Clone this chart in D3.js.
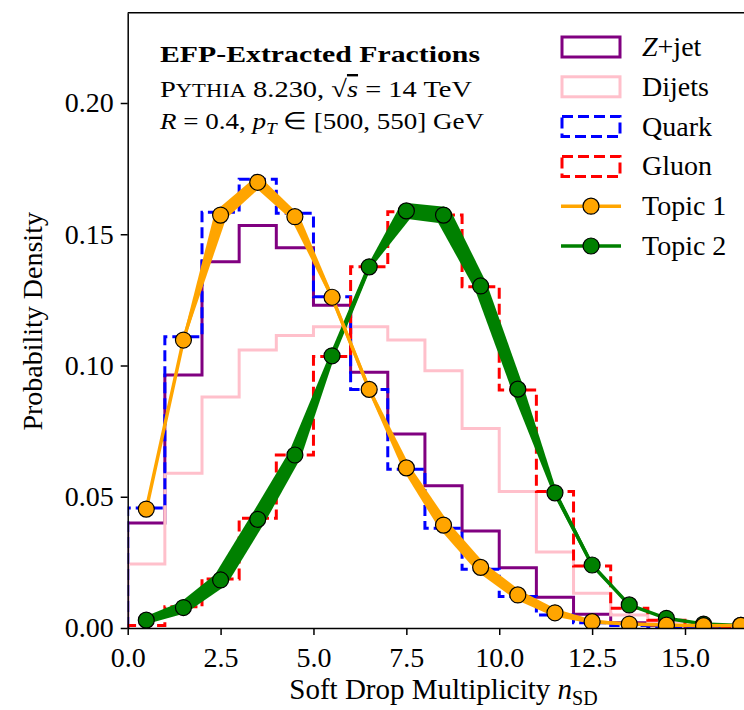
<!DOCTYPE html>
<html>
<meta charset=utf-8>
<head>
<script src="https://cdnjs.cloudflare.com/ajax/libs/d3/7.8.5/d3.min.js"></script>
<style>
body { margin: 0; background: #fff; }
text { font-family: "Liberation Serif", "Times New Roman", serif; fill: #000; }
</style>
</head>
<body>
<script>

// soft drop multiplicity bins (width 1)
var binEdges = [0, 1, 2, 3, 4, 5, 6, 7, 8, 9, 10, 11, 12, 13, 14, 15, 16, 17];
var binCenters = [0.5, 1.5, 2.5, 3.5, 4.5, 5.5, 6.5, 7.5, 8.5, 9.5, 10.5, 11.5, 12.5, 13.5, 14.5, 15.5, 16.5];

// histograms (probability density per bin)
var zjet   = [0.0400, 0.0964, 0.1395, 0.1533, 0.1449, 0.1230, 0.0974, 0.0739, 0.0542, 0.0370, 0.0230, 0.0117, 0.0052, 0.0020, 0.0010, 0.0005, 0.0003];
var dijets = [0.0244, 0.0590, 0.0880, 0.1059, 0.1114, 0.1148, 0.1148, 0.1097, 0.0980, 0.0760, 0.0520, 0.0290, 0.0132, 0.0050, 0.0024, 0.0010, 0.0005];
var quark  = [0.0457, 0.1110, 0.1584, 0.1710, 0.1580, 0.1262, 0.0909, 0.0605, 0.0380, 0.0224, 0.0120, 0.0050, 0.0020, 0.0010, 0.0005, 0.0003, 0.0002];
var gluon  = [0.0010, 0.0081, 0.0187, 0.0418, 0.0659, 0.1034, 0.1376, 0.1586, 0.1573, 0.1300, 0.0907, 0.0520, 0.0236, 0.0075, 0.0030, 0.0010, 0.0005];

// extracted topics and their spread
var topic1    = [0.0453, 0.1097, 0.1573, 0.1698, 0.1567, 0.1260, 0.0909, 0.0610, 0.0392, 0.0231, 0.0126, 0.0058, 0.0024, 0.0015, 0.0011, 0.0009, 0.0010];
var topic1Err = [0.0000, 0.0004, 0.0024, 0.0021, 0.0017, 0.0006, 0.0006, 0.0015, 0.0021, 0.0021, 0.0019, 0.0015, 0.0008, 0.0004, 0.0000, 0.0000, 0.0000];
var topic2    = [0.0030, 0.0078, 0.0183, 0.0414, 0.0659, 0.1037, 0.1376, 0.1589, 0.1573, 0.1303, 0.0910, 0.0515, 0.0240, 0.0088, 0.0037, 0.0015, 0.0010];
var topic2Err = [0.0015, 0.0023, 0.0029, 0.0029, 0.0025, 0.0010, 0.0008, 0.0030, 0.0032, 0.0025, 0.0023, 0.0008, 0.0006, 0.0004, 0.0003, 0.0003, 0.0003];

var xTicks = [0, 2.5, 5, 7.5, 10, 12.5, 15];
var yTicks = [0, 0.05, 0.10, 0.15, 0.20];
var xMax = 17, yMax = 0.2344;

var svg = d3.select('body').append('svg')
    .attr('width', 744).attr('height', 710);

var x = d3.scaleLinear().domain([0, xMax]).range([127.7, 759.3]);
var y = d3.scaleLinear().domain([0, yMax]).range([628, 12.7]);

svg.append('clipPath').attr('id', 'plotclip')
  .append('rect')
    .attr('x', x(0)).attr('y', y(yMax))
    .attr('width', x(xMax) - x(0)).attr('height', y(0) - y(yMax));

var plot = svg.append('g').attr('clip-path', 'url(#plotclip)');

var line = d3.line().x(function(d){ return x(d[0]); }).y(function(d){ return y(d[1]); });

// step outline like hist(histtype='step')
function stepPts(vals) {
  var pts = [[binEdges[0], 0]];
  vals.forEach(function(v, i){
    pts.push([binEdges[i], v]);
    pts.push([binEdges[i + 1], v]);
  });
  pts.push([binEdges[vals.length], 0]);
  return pts;
}

function hist(vals, color, dashed) {
  plot.append('path')
    .attr('d', line(stepPts(vals)))
    .attr('fill', 'none')
    .attr('stroke', color)
    .attr('stroke-width', 3)
    .attr('stroke-dasharray', dashed ? '11,5' : null);
}

hist(zjet, 'purple', false);
hist(dijets, 'pink', false);
hist(quark, 'blue', true);
hist(gluon, 'red', true);

// topic curve with a spread band of varying width
function topic(vals, errs, color) {
  var g = plot.append('g');
  var pts = vals.map(function(v, i){ return [x(binCenters[i]), y(v)]; });
  var w = errs.map(function(e){ return y(0) - y(e); });
  var band = g.append('g').attr('fill', color);
  for (var i = 0; i < pts.length - 1; i++) {
    var dx = pts[i+1][0] - pts[i][0], dy = pts[i+1][1] - pts[i][1];
    var len = Math.sqrt(dx*dx + dy*dy), nx = -dy/len, ny = dx/len;
    var poly = [
      [pts[i][0] + nx*w[i], pts[i][1] + ny*w[i]],
      [pts[i+1][0] + nx*w[i+1], pts[i+1][1] + ny*w[i+1]],
      [pts[i+1][0] - nx*w[i+1], pts[i+1][1] - ny*w[i+1]],
      [pts[i][0] - nx*w[i], pts[i][1] - ny*w[i]]
    ];
    band.append('polygon').attr('points', poly.map(function(p){ return p.join(','); }).join(' '));
  }
  band.selectAll('circle').data(pts).enter().append('circle')
    .attr('cx', function(d){ return d[0]; })
    .attr('cy', function(d){ return d[1]; })
    .attr('r', function(d, i){ return w[i]; });

  g.append('path')
    .attr('d', d3.line()(pts))
    .attr('fill', 'none')
    .attr('stroke', color)
    .attr('stroke-width', 3.5)
    .attr('stroke-linejoin', 'round');

  g.selectAll('.mk').data(pts).enter().append('circle')
    .attr('class', 'mk')
    .attr('cx', function(d){ return d[0]; })
    .attr('cy', function(d){ return d[1]; })
    .attr('r', 8)
    .attr('fill', color)
    .attr('stroke', '#000')
    .attr('stroke-width', 1.2);
}

topic(topic2, topic2Err, 'green');
topic(topic1, topic1Err, 'orange');

// axes
var xAxis = svg.append('g')
    .attr('transform', 'translate(0,' + y(0) + ')')
    .call(d3.axisBottom(x).tickValues(xTicks).tickFormat(d3.format('.1f'))
      .tickSize(7).tickPadding(12).tickSizeOuter(0));

var yAxis = svg.append('g')
    .attr('transform', 'translate(' + x(0) + ',0)')
    .call(d3.axisLeft(y).tickValues(yTicks).tickFormat(d3.format('.2f'))
      .tickSize(7).tickPadding(7).tickSizeOuter(0));

[xAxis, yAxis].forEach(function(a){
  a.selectAll('path, line').attr('stroke', '#000').attr('stroke-width', 1.5);
  a.selectAll('text').attr('font-family', '"Liberation Serif", serif').attr('font-size', 28);
});

// top spine
svg.append('line')
  .attr('x1', x(0)).attr('x2', x(xMax))
  .attr('y1', y(yMax)).attr('y2', y(yMax))
  .attr('stroke', '#000').attr('stroke-width', 1.5);

// axis labels
var xl = svg.append('text')
  .attr('x', (x(0) + x(xMax)) / 2).attr('y', 699)
  .attr('text-anchor', 'middle').attr('font-size', 29);
xl.append('tspan').text('Soft Drop Multiplicity ');
xl.append('tspan').attr('font-style', 'italic').text('n');
xl.append('tspan').attr('font-size', 20).attr('dy', 6).text('SD');

svg.append('text')
  .attr('transform', 'translate(42,' + ((y(0) + y(yMax)) / 2 + 1) + ') rotate(-90)')
  .attr('text-anchor', 'middle').attr('font-size', 28)
  .text('Probability Density');

// annotation
var ann = svg.append('g').attr('font-size', 24);
ann.append('text').attr('x', 160).attr('y', 62)
  .attr('font-weight', 'bold').attr('textLength', 320).attr('lengthAdjust', 'spacingAndGlyphs')
  .text('EFP-Extracted Fractions');

var l2 = ann.append('text').attr('x', 160).attr('y', 97).attr('textLength', 312).attr('lengthAdjust', 'spacingAndGlyphs');
l2.append('tspan').text('P');
l2.append('tspan').attr('font-size', 19).text('YTHIA');
l2.append('tspan').text(' 8.230, √');
l2.append('tspan').attr('font-style', 'italic').attr('text-decoration', 'overline').text('s');
l2.append('tspan').text(' = 14 TeV');

var l3 = ann.append('text').attr('x', 160).attr('y', 129).attr('textLength', 324).attr('lengthAdjust', 'spacingAndGlyphs');
l3.append('tspan').attr('font-style', 'italic').text('R');
l3.append('tspan').text(' = 0.4, ');
l3.append('tspan').attr('font-style', 'italic').text('p');
l3.append('tspan').attr('font-style', 'italic').attr('font-size', 17).attr('dy', 5).text('T');
l3.append('tspan').attr('dy', -5).text(' ∈ [500, 550] GeV');

// legend
var legendItems = [
  {label: 'Z+jet', color: 'purple', kind: 'box'},
  {label: 'Dijets', color: 'pink', kind: 'box'},
  {label: 'Quark', color: 'blue', kind: 'dash'},
  {label: 'Gluon', color: 'red', kind: 'dash'},
  {label: 'Topic 1', color: 'orange', kind: 'line'},
  {label: 'Topic 2', color: 'green', kind: 'line'}
];

var leg = svg.append('g');
legendItems.forEach(function(d, i){
  var cy = 47 + i * 39.8;
  if (d.kind === 'line') {
    leg.append('line').attr('x1', 561).attr('x2', 621).attr('y1', cy).attr('y2', cy)
      .attr('stroke', d.color).attr('stroke-width', 3.5);
    leg.append('circle').attr('cx', 591).attr('cy', cy).attr('r', 8)
      .attr('fill', d.color).attr('stroke', '#000').attr('stroke-width', 1.2);
  } else {
    leg.append('rect').attr('x', 562).attr('y', cy - 10).attr('width', 58).attr('height', 20)
      .attr('fill', 'none').attr('stroke', d.color).attr('stroke-width', 3)
      .attr('stroke-dasharray', d.kind === 'dash' ? '11,5' : null);
  }
  var t = leg.append('text').attr('x', 642).attr('y', cy + 9).attr('font-size', 28);
  if (d.label === 'Z+jet') {
    t.append('tspan').attr('font-style', 'italic').text('Z');
    t.append('tspan').text('+jet');
  } else {
    t.text(d.label);
  }
});

</script>
</body>
</html>
